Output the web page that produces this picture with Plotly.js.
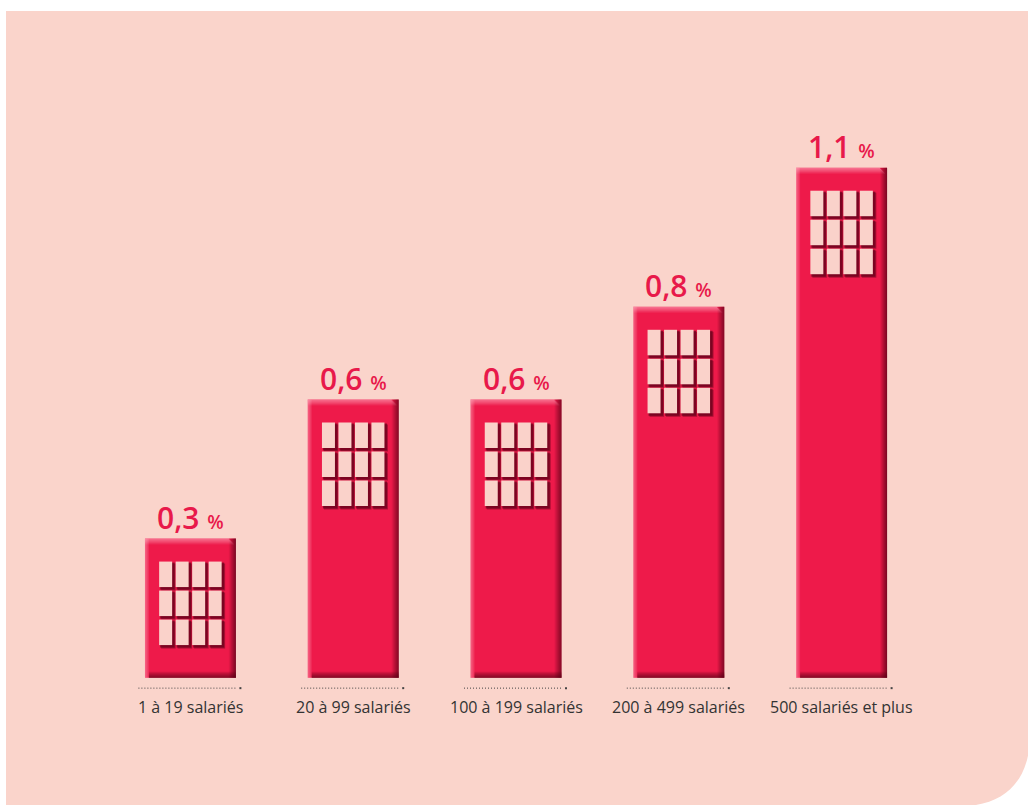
<!DOCTYPE html>
<html>
<head>
<meta charset="utf-8">
<script src="https://cdn.plot.ly/plotly-3.0.1.min.js"></script>
<style>html,body{margin:0;padding:0;background:#fff;}#chart{width:1028px;height:805px;}</style>
</head>
<body>
<div id="chart"></div>
<script>
const categories = ["1 à 19 salariés", "20 à 99 salariés", "100 à 199 salariés", "200 à 499 salariés", "500 salariés et plus"];
const values = [0.3, 0.6, 0.6, 0.8, 1.1];
const valueLabels = ["0,3", "0,6", "0,6", "0,8", "1,1"];
const xIdx = categories.map((c, i) => i);

const RED = "#EE1A4A";
const BG = "#FAD4CB";
// y range extends a little below 0 so the dotted rules under the bars are not clipped
const Y_MIN = -0.1, Y_MAX = 1.3;
const M = {l: 109, r: 105, t: 75, b: 81};
const W = 1028, H = 805;
const pw = W - M.l - M.r, ph = H - M.t - M.b;
const xp = px => (px - M.l) / pw;
const yp = py => (H - M.b - py) / ph;

const shapes = [];
// pink background panel with rounded lower-right corner
const path = `M ${xp(6)},${yp(11)} L ${xp(1030)},${yp(11)} L ${xp(1030)},${yp(735)} ` +
  `C ${xp(1030)},${yp(780)} ${xp(1005)},${yp(806)} ${xp(962)},${yp(806)} L ${xp(6)},${yp(806)} Z`;
shapes.push({type: "path", xref: "paper", yref: "paper", path: path, fillcolor: BG, line: {width: 0}, layer: "below"});

const half = 45.5;
function pxRect(i, x0, x1, yAnchor, y0, y1, color) {
  shapes.push({type: "rect", xref: "x", yref: "y", xsizemode: "pixel", ysizemode: "pixel",
    xanchor: i, yanchor: yAnchor, x0: x0, x1: x1, y0: y0, y1: y1,
    fillcolor: color, line: {width: 0}, layer: "above"});
}
function colRect(i, x0, x1, yv0, yv1, color) {
  shapes.push({type: "rect", xref: "x", yref: "y", xsizemode: "pixel",
    xanchor: i, x0: x0, x1: x1, y0: yv0, y1: yv1,
    fillcolor: color, line: {width: 0}, layer: "above"});
}

xIdx.forEach(i => {
  const v = values[i];
  // bevel: left light
  for (let k = 0; k < 4; k++) {
    colRect(i, -half + k, -half + k + 1, 0, v, `rgba(255,190,205,${0.45 - 0.1 * k})`);
  }
  // right dark
  for (let k = 0; k < 7; k++) {
    colRect(i, half - 7 + k, half - 6 + k, 0, v, `rgba(80,0,20,${0.08 + 0.11 * k})`);
  }
  // top light
  for (let k = 0; k < 6; k++) {
    pxRect(i, -half, half - 7 + k, v, -k - 1, -k, `rgba(255,185,200,${0.6 - 0.1 * k})`);
  }
  // bottom dark
  for (let k = 0; k < 6; k++) {
    pxRect(i, -half + 4, half, 0, k, k + 1, `rgba(80,0,20,${0.75 - 0.12 * k})`);
  }
  // windows 4 x 3
  const cols = [-24.75, -8.25, 8.25, 24.75];
  const rows = [23, 52, 81];
  rows.forEach(r => cols.forEach(c => {
    pxRect(i, c - 6.5 + 2, c + 6.5 + 3.5, v, -r - 25.5 - 3.5, -r - 2, "rgba(95,0,25,0.45)");
    pxRect(i, c - 6.5 + 1, c + 6.5 + 2.5, v, -r - 25.5 - 2.5, -r - 1, "rgba(95,0,25,0.65)");
    pxRect(i, c - 6.5, c + 6.5, v, -r - 25.5, -r, "#FAD2CA");
  }));
  // dotted rule under the category
  shapes.push({type: "line", xref: "x", yref: "y", xsizemode: "pixel", ysizemode: "pixel",
    xanchor: i, yanchor: 0, x0: -52, x1: 47, y0: -10.5, y1: -10.5,
    line: {color: "#444", width: 1, dash: "1px,2px"}});
  pxRect(i, 49, 51, 0, -11.5, -9.5, "#444");
});

const annotations = xIdx.map(i => ({
  x: i, y: values[i], xref: "x", yref: "y", yanchor: "bottom", yshift: -1, showarrow: false,
  text: valueLabels[i] + " <span style=\"font-size:19px\">%</span>",
  font: {family: "Open Sans, sans-serif", size: 30, color: "#E8194A", weight: 600}
})).concat(xIdx.map(i => ({
  x: i, y: 0, xref: "x", yref: "y", yanchor: "middle", yshift: -29, showarrow: false,
  text: categories[i],
  font: {family: "Open Sans, sans-serif", size: 16, color: "#333"}
})));

const trace = {
  type: "bar", x: xIdx, y: values, width: 0.558,
  marker: {color: RED, line: {width: 0}}, hoverinfo: "skip"
};

const layout = {
  width: W, height: H, margin: M,
  paper_bgcolor: "#ffffff", plot_bgcolor: "rgba(0,0,0,0)",
  showlegend: false,
  xaxis: {range: [-0.5, 4.5], tickvals: xIdx, ticktext: categories, showticklabels: false, showgrid: false,
    zeroline: false, showline: false, ticks: "", fixedrange: true},
  yaxis: {range: [Y_MIN, Y_MAX], visible: false, fixedrange: true},
  shapes: shapes, annotations: annotations
};

Plotly.newPlot("chart", [trace], layout, {displayModeBar: false, staticPlot: true});
</script>
</body>
</html>
